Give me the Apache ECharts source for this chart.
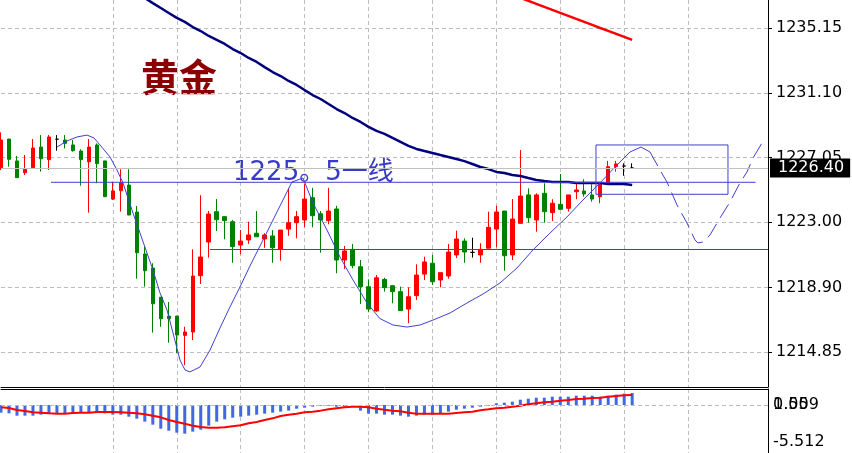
<!DOCTYPE html>
<html>
<head>
<meta charset="utf-8">
<title>黄金</title>
<script src="https://cdn.jsdelivr.net/npm/echarts@6/dist/echarts.min.js"></script>
<style>
html, body { margin: 0; padding: 0; background: #fff; }
#chart { width: 852px; height: 453px; }
</style>
</head>
<body>
<div id="chart"></div>
<script>
// price candles, one row per bar: [open, close, low, high]
var candles = [
  [1226.42, 1228.15, 1226.27, 1228.63], [1228.21, 1226.94, 1226.48, 1228.21],
  [1226.84, 1225.79, 1225.79, 1227.15], [1226.10, 1226.32, 1225.96, 1227.21],
  [1226.42, 1227.65, 1226.42, 1228.21], [1227.71, 1226.98, 1226.17, 1228.46],
  [1226.92, 1228.34, 1226.27, 1228.46], [1228.20, 1228.20, 1227.48, 1228.46],
  [1228.15, 1227.94, 1227.63, 1228.46], [1227.84, 1227.48, 1227.42, 1228.15],
  [1227.46, 1226.92, 1225.29, 1227.57], [1226.79, 1227.71, 1223.60, 1228.21],
  [1227.84, 1226.67, 1225.44, 1227.94], [1226.84, 1224.60, 1224.60, 1226.84],
  [1224.45, 1224.96, 1224.39, 1225.54], [1224.97, 1225.48, 1223.66, 1226.32],
  [1225.33, 1223.45, 1223.45, 1226.32], [1223.64, 1221.09, 1219.46, 1224.02],
  [1221.01, 1219.96, 1218.96, 1221.47], [1220.13, 1217.89, 1216.08, 1220.43],
  [1218.30, 1216.95, 1216.45, 1218.30], [1217.12, 1216.95, 1215.45, 1218.00],
  [1217.12, 1215.93, 1214.79, 1217.12], [1215.91, 1216.12, 1214.05, 1216.45],
  [1216.12, 1219.63, 1215.62, 1221.30], [1219.65, 1220.82, 1219.13, 1224.69],
  [1221.76, 1223.51, 1220.78, 1223.70], [1223.66, 1223.16, 1222.45, 1224.45],
  [1223.35, 1223.10, 1221.93, 1223.35], [1223.03, 1221.47, 1220.46, 1223.14],
  [1221.57, 1221.82, 1220.99, 1222.51], [1221.89, 1222.20, 1221.64, 1223.03],
  [1222.31, 1222.09, 1222.09, 1223.70], [1221.95, 1222.20, 1221.40, 1222.31],
  [1222.14, 1221.40, 1220.46, 1222.51], [1221.32, 1222.51, 1220.59, 1222.51],
  [1222.57, 1222.97, 1222.15, 1225.12], [1222.97, 1223.35, 1221.99, 1223.70],
  [1223.14, 1224.45, 1222.68, 1225.38], [1224.54, 1223.41, 1222.68, 1225.16],
  [1223.53, 1223.14, 1221.09, 1223.70], [1223.10, 1223.70, 1222.87, 1225.16],
  [1223.83, 1220.63, 1219.80, 1224.03], [1220.63, 1221.20, 1220.07, 1221.51],
  [1221.30, 1220.28, 1220.11, 1221.64], [1220.21, 1218.96, 1217.88, 1220.63],
  [1218.96, 1217.56, 1217.36, 1219.42], [1217.44, 1219.52, 1217.39, 1219.69],
  [1219.42, 1218.90, 1218.65, 1219.52], [1219.02, 1218.65, 1217.92, 1219.02],
  [1218.65, 1217.46, 1217.46, 1218.96], [1217.56, 1218.33, 1216.67, 1218.92],
  [1218.40, 1219.69, 1218.13, 1220.36], [1219.75, 1220.51, 1219.38, 1220.84],
  [1220.43, 1219.27, 1219.07, 1220.95], [1219.38, 1219.84, 1218.92, 1219.84],
  [1219.63, 1221.13, 1219.46, 1221.64], [1220.95, 1221.95, 1220.76, 1222.47],
  [1221.82, 1221.13, 1220.46, 1221.99], [1221.11, 1221.11, 1220.78, 1222.03],
  [1220.95, 1221.30, 1220.46, 1221.68], [1221.37, 1222.68, 1221.37, 1223.66],
  [1222.57, 1223.64, 1221.43, 1224.03], [1223.70, 1220.90, 1219.96, 1223.70],
  [1220.95, 1223.20, 1220.63, 1224.45], [1222.93, 1224.64, 1222.93, 1227.52],
  [1224.71, 1223.28, 1222.97, 1225.12], [1223.14, 1224.71, 1222.41, 1224.81],
  [1224.81, 1223.66, 1222.97, 1225.44], [1223.60, 1224.19, 1223.08, 1224.44],
  [1224.12, 1223.81, 1223.81, 1226.02], [1223.87, 1224.71, 1223.66, 1224.71],
  [1224.91, 1225.02, 1224.44, 1225.39], [1224.96, 1224.77, 1224.60, 1225.69],
  [1224.71, 1224.45, 1224.29, 1225.38], [1224.60, 1225.44, 1224.19, 1225.50],
  [1225.48, 1226.48, 1225.38, 1226.84], [1226.48, 1226.65, 1226.17, 1226.84],
  [1226.52, 1226.52, 1225.91, 1226.69], [1226.40, 1226.40, 1226.40, 1226.69]
];
var dojiBars = [7, 59, 78, 79];

// moving averages
var maNavy = [
  1242.62, 1242.31, 1242.00, 1241.68, 1241.37, 1241.06, 1240.74, 1240.43, 1240.12, 1239.81,
  1239.49, 1239.24, 1238.93, 1238.61, 1238.30, 1237.99, 1237.67, 1237.36, 1237.05, 1236.73,
  1236.42, 1236.11, 1235.80, 1235.55, 1235.23, 1234.98, 1234.67, 1234.42, 1234.17, 1233.85,
  1233.60, 1233.29, 1233.04, 1232.72, 1232.41, 1232.16, 1231.85, 1231.60, 1231.28, 1230.97,
  1230.72, 1230.41, 1230.09, 1229.84, 1229.53, 1229.28, 1228.97, 1228.72, 1228.53, 1228.28,
  1228.03, 1227.78, 1227.59, 1227.46, 1227.34, 1227.21, 1227.09, 1226.96, 1226.83, 1226.65,
  1226.46, 1226.33, 1226.15, 1226.08, 1225.96, 1225.90, 1225.77, 1225.65, 1225.58, 1225.52,
  1225.52, 1225.52, 1225.46, 1225.46, 1225.46, 1225.46, 1225.39, 1225.39, 1225.39, 1225.33
];
var maRed = [
  null, null, null, null, null, null, null, null, null, null,
  null, null, null, null, null, null, null, null, null, null,
  null, null, null, null, null, null, null, null, null, null,
  null, null, null, null, null, null, null, null, null, null,
  null, null, null, null, null, null, null, null, null, null,
  null, null, null, null, null, null, null, null, null, null,
  null, null, null, null, 1237.24, 1237.06, 1236.87, 1236.68, 1236.49, 1236.30,
  1236.12, 1235.93, 1235.74, 1235.55, 1235.36, 1235.17, 1234.99, 1234.80, 1234.61, 1234.42
];

// MACD panel
var macdBars = [
  -1.14, -1.24, -1.59, -1.59, -1.59, -1.44, -1.24, -1.24, -1.24, -1.24,
  -1.14, -1.14, -1.14, -1.24, -1.44, -1.44, -1.74, -2.04, -2.48, -2.93,
  -3.53, -3.83, -4.12, -4.27, -3.97, -3.68, -3.08, -2.48, -2.14, -1.89,
  -1.74, -1.59, -1.44, -1.29, -1.14, -0.99, -0.84, -0.55, -0.40, -0.25,
  -0.10, -0.10, -0.25, -0.25, -0.25, -0.84, -1.29, -1.29, -1.44, -1.44,
  -1.59, -1.74, -1.59, -1.44, -1.44, -1.29, -0.99, -0.70, -0.55, -0.40,
  -0.25, -0.10, 0.25, 0.35, 0.50, 0.79, 0.94, 1.09, 1.09, 1.24,
  1.24, 1.24, 1.39, 1.39, 1.39, 1.24, 1.39, 1.54, 1.69, 1.79
];
var macdSignal = [
  -0.35, -0.45, -0.75, -0.89, -1.09, -1.14, -1.24, -1.29, -1.29, -1.19,
  -1.14, -1.14, -1.04, -1.04, -1.04, -1.09, -1.14, -1.24, -1.39, -1.59,
  -1.84, -2.24, -2.53, -2.78, -3.08, -3.28, -3.38, -3.38, -3.33, -3.18,
  -3.03, -2.73, -2.53, -2.24, -1.99, -1.64, -1.44, -1.29, -1.09, -0.99,
  -0.84, -0.65, -0.50, -0.35, -0.25, -0.25, -0.35, -0.55, -0.70, -0.84,
  -0.94, -1.14, -1.29, -1.29, -1.29, -1.29, -1.29, -1.19, -1.09, -0.99,
  -0.79, -0.65, -0.50, -0.40, -0.25, -0.10, 0.10, 0.25, 0.40, 0.50,
  0.65, 0.75, 0.89, 0.94, 1.04, 1.09, 1.24, 1.34, 1.44, 1.49
];

// axis labels
var priceTicks = [1235.15, 1231.10, 1227.05, 1223.00, 1218.90, 1214.85];
var lastPrice = 1226.40;
var macdTicks = [0, -5.512];
var macdLast = 1.559;

// hand-drawn annotations, [bar position, price]
var curveDrawn = [
  [7.01, 1227.71], [8.26, 1228.09], [9.51, 1228.34], [10.76, 1228.46], [11.64, 1228.28],
  [12.39, 1227.84], [13.64, 1227.09], [14.52, 1226.27], [15.27, 1225.46], [16.52, 1223.58],
  [17.40, 1222.32], [18.27, 1221.07], [19.02, 1220.01], [19.90, 1218.57], [20.78, 1217.50],
  [21.53, 1216.06], [22.40, 1214.37], [23.03, 1213.74], [23.65, 1213.62], [24.91, 1213.93],
  [26.16, 1214.99], [27.41, 1216.37], [28.66, 1217.69], [29.91, 1218.94], [31.16, 1220.26],
  [32.42, 1221.51], [33.67, 1222.76], [34.92, 1224.02], [36.42, 1225.52], [37.80, 1225.77],
  [39.05, 1224.20], [40.80, 1222.51], [42.43, 1220.82], [44.06, 1219.38], [45.81, 1217.94],
  [47.43, 1216.96], [49.06, 1216.56], [50.81, 1216.43], [52.44, 1216.56], [54.07, 1216.87],
  [56.20, 1217.31], [58.32, 1217.94], [60.33, 1218.50], [62.45, 1219.19], [64.58, 1220.13],
  [66.58, 1221.26], [68.71, 1222.32], [70.84, 1223.33], [72.84, 1224.39], [74.97, 1225.46],
  [77.10, 1226.58], [78.72, 1227.40], [80.10, 1227.71], [81.23, 1227.40]
];
var curveForecast = [
  [81.23, 1227.40], [82.48, 1226.27], [83.35, 1225.52], [84.61, 1224.08], [85.86, 1222.95],
  [86.86, 1221.89], [87.23, 1221.70], [87.86, 1221.76], [88.74, 1222.20], [89.99, 1223.26],
  [91.24, 1224.27], [92.49, 1225.46], [93.37, 1226.15], [94.12, 1227.02], [95.62, 1228.28]
];
var lineUpper = [[6.26, 1225.5], [94.45, 1225.5]];
var lineLower = [[26.16, 1221.29], [96, 1221.29]];
var boxZone = [[74.47, 1227.84], [90.99, 1227.84], [90.99, 1224.75], [74.47, 1224.75], [74.47, 1227.84]];

var slots = [];
for (var k = 0; k <= 96; k++) slots.push(String(k));

var candleData = candles.map(function (c, i) {
  if (dojiBars.indexOf(i) >= 0) {
    return {
      value: c,
      itemStyle: { color: '#000', color0: '#000', borderColor: '#000', borderColor0: '#000', borderColorDoji: '#000' }
    };
  }
  return c;
});

var gridLine = { color: '#bdbdbd', type: [4, 3], width: 1 };
var drawColor = '#4040cc';
function everyEighth(i) { return i % 8 === 6; }

var option = {
  animation: false,
  backgroundColor: '#fff',
  grid: [
    { left: 1, top: 0, width: 767, height: 387 },
    { left: 1, top: 389, width: 767, height: 64 }
  ],
  xAxis: [
    {
      type: 'category', gridIndex: 0, data: slots, boundaryGap: false,
      axisLine: { show: true, onZero: false, lineStyle: { color: '#000' } },
      axisTick: { show: false }, axisLabel: { show: false },
      splitLine: { show: true, showMinLine: false, showMaxLine: false, interval: everyEighth, lineStyle: gridLine }
    },
    { type: 'value', gridIndex: 0, min: 0, max: 96, show: false, axisLine: { onZero: false } },
    {
      type: 'category', gridIndex: 1, data: slots, boundaryGap: false, position: 'top',
      axisLine: { show: true, onZero: false, lineStyle: { color: '#000' } },
      axisTick: { show: false }, axisLabel: { show: false },
      splitLine: { show: true, showMinLine: false, showMaxLine: false, interval: everyEighth, lineStyle: gridLine }
    }
  ],
  yAxis: [
    {
      type: 'value', gridIndex: 0, position: 'right', min: 1212.675, max: 1236.923,
      axisLine: { show: true, onZero: false, lineStyle: { color: '#000' } },
      axisTick: { show: true, length: 4, customValues: priceTicks, lineStyle: { color: '#000' } },
      axisLabel: {
        customValues: priceTicks, margin: 8, color: '#000',
        fontFamily: 'DejaVu Sans', fontSize: 16,
        formatter: function (v) { return v.toFixed(2); }
      },
      splitLine: { show: true, lineStyle: gridLine }
    },
    {
      type: 'value', gridIndex: 1, position: 'right', min: -7.153, max: 2.384,
      axisLine: { show: true, onZero: false, lineStyle: { color: '#000' } },
      axisTick: { show: false, customValues: macdTicks },
      axisLabel: {
        customValues: macdTicks, margin: 5, color: '#000',
        fontFamily: 'DejaVu Sans', fontSize: 16,
        formatter: function (v) { return v === 0 ? '0.00' : v.toFixed(3); }
      },
      splitLine: { show: false }
    }
  ],
  graphic: [
    {
      type: 'text', left: 141, top: 58, silent: true,
      style: { text: '黄金', fill: '#8b0000', font: 'bold 38px "Noto Sans CJK SC"' }
    },
    {
      type: 'text', left: 233, top: 160, silent: true,
      style: { text: '1225。5一线', fill: '#3a3ac8', font: '26px "DejaVu Sans", "Noto Sans CJK SC"' }
    }
  ],
  series: [
    {
      type: 'candlestick', xAxisIndex: 0, yAxisIndex: 0, data: candleData, barWidth: 4,
      itemStyle: { color: '#ff0000', color0: '#008000', borderColor: '#ff0000', borderColor0: '#008000', borderWidth: 1 },
      markLine: {
        silent: true, symbol: ['none', 'none'],
        lineStyle: { color: '#c0c0c0', type: 'solid', width: 1 },
        label: {
          position: 'end', distance: 2, formatter: lastPrice.toFixed(2),
          color: '#fff', backgroundColor: '#000', padding: [2, 6, 1, 8],
          fontFamily: 'DejaVu Sans', fontSize: 16
        },
        data: [{ yAxis: lastPrice }]
      }
    },
    {
      type: 'line', xAxisIndex: 0, yAxisIndex: 0, data: maNavy, symbol: 'none', silent: true,
      lineStyle: { color: '#00007f', width: 2.5 }
    },
    {
      type: 'line', xAxisIndex: 0, yAxisIndex: 0, data: maRed, symbol: 'none', silent: true,
      lineStyle: { color: '#ff0000', width: 2.5 }
    },
    {
      type: 'line', xAxisIndex: 1, yAxisIndex: 0, data: curveDrawn, symbol: 'none', silent: true,
      lineStyle: { color: drawColor, width: 1 }
    },
    {
      type: 'line', xAxisIndex: 1, yAxisIndex: 0, data: curveForecast, symbol: 'none', silent: true,
      lineStyle: { color: drawColor, width: 1, type: [16, 7] }
    },
    {
      type: 'line', xAxisIndex: 1, yAxisIndex: 0, data: lineUpper, symbol: 'none', silent: true,
      lineStyle: { color: drawColor, width: 1 }
    },
    {
      type: 'line', xAxisIndex: 1, yAxisIndex: 0, data: lineLower, symbol: 'none', silent: true,
      lineStyle: { color: drawColor, width: 1 }
    },
    {
      type: 'line', xAxisIndex: 1, yAxisIndex: 0, data: boxZone, symbol: 'none', silent: true,
      lineStyle: { color: drawColor, width: 1 }
    },
    {
      type: 'bar', xAxisIndex: 2, yAxisIndex: 1, data: macdBars, barWidth: 3, silent: true,
      itemStyle: { color: '#4169e1' },
      markLine: {
        silent: true, symbol: ['none', 'none'],
        lineStyle: { color: '#bdbdbd', type: [4, 3], width: 1 },
        label: {
          position: 'end', distance: 5, formatter: macdLast.toFixed(3), color: '#000',
          fontFamily: 'DejaVu Sans', fontSize: 16
        },
        data: [{ yAxis: 0 }]
      }
    },
    {
      type: 'line', xAxisIndex: 2, yAxisIndex: 1, data: macdSignal, symbol: 'none', silent: true,
      lineStyle: { color: '#ff0000', width: 2 }
    }
  ]
};

var chart = echarts.init(document.getElementById('chart'));
chart.setOption(option);
</script>
</body>
</html>
